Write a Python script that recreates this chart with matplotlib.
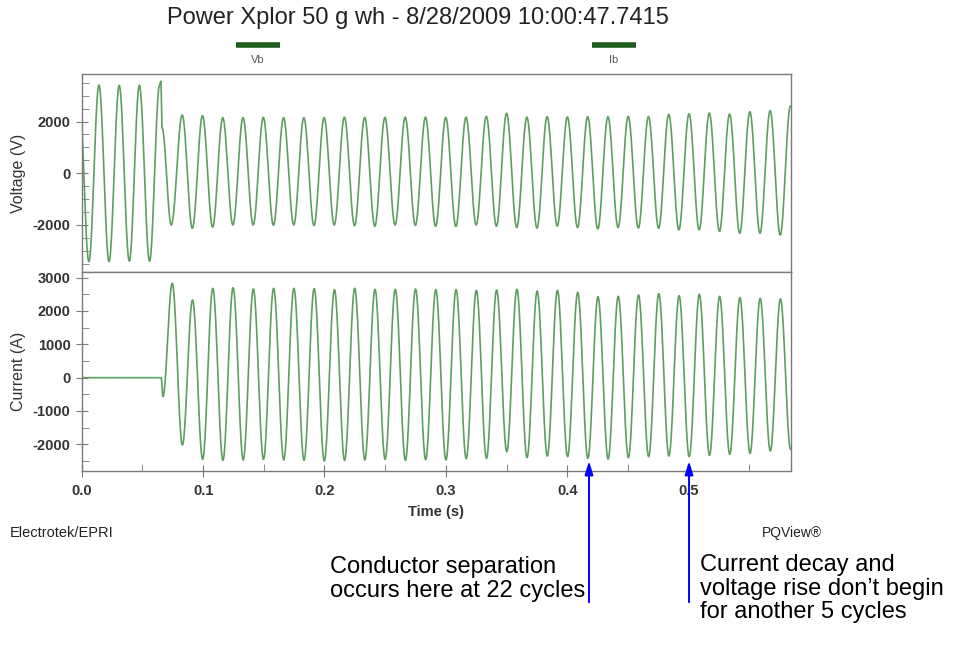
import numpy as np
import matplotlib
matplotlib.use("Agg")
import matplotlib.pyplot as plt
from matplotlib.ticker import MultipleLocator

plt.rcParams['font.family'] = ['Liberation Sans', 'DejaVu Sans']

# ---------------- data ----------------
title = "Power Xplor 50 g wh - 8/28/2009 10:00:47.7415"
series_names = ["Vb", "Ib"]
period = 0.0167  # s (60 Hz)

# Voltage before / at the fault: (time s, extreme value V)
v_pre_t = [-0.0025, 0.0059, 0.0142, 0.0225, 0.0309, 0.0392, 0.0475, 0.0559, 0.0642, 0.0652, 0.0662, 0.0738]
v_pre_v = [3400, -3420, 3415, -3420, 3400, -3400, 3400, -3400, 3420, 3560, 1750, -2000]
# Voltage after the fault: first peak time, then peaks / troughs per cycle
v_post_start = 0.0828
v_post_peaks = [2250, 2230, 2150, 2150, 2160, 2150, 2150, 2150, 2170, 2160,
                2160, 2170, 2170, 2160, 2170, 2200, 2320, 2170, 2190, 2180,
                2190, 2190, 2200, 2190, 2280, 2300, 2330, 2290, 2380, 2420, 2600]
v_post_troughs = [-2130, -2080, -2000, -2000, -2010, -2000, -2020, -2000, -2030, -2050,
                  -2000, -2020, -2050, -2060, -2000, -2050, -2100, -2120, -2040, -2100,
                  -2150, -2100, -2120, -2130, -2190, -2190, -2250, -2320, -2320, -2390]

# Current: flat before the fault, then first dip and offset peak
i_pre_t = [-0.01, 0.0655, 0.0669]
i_pre_v = [0, 0, -570]
i_post_start = 0.0746
i_post_peaks = [2830, 2330, 2680, 2700, 2660, 2680, 2680, 2670, 2640, 2680,
                2650, 2650, 2660, 2640, 2640, 2620, 2630, 2650, 2600, 2620,
                2560, 2430, 2440, 2480, 2520, 2460, 2500, 2440, 2400, 2380, 2360]
i_post_troughs = [-2020, -2450, -2480, -2470, -2450, -2470, -2480, -2500, -2480, -2470,
                  -2450, -2480, -2460, -2470, -2430, -2420, -2220, -2400, -2350, -2370,
                  -2420, -2440, -2400, -2370, -2350, -2370, -2330, -2300, -2270, -2200, -2150]

voltage_ticks = [-2000, 0, 2000]
current_ticks = [-2000, -1000, 0, 1000, 2000, 3000]
time_ticks = [0.0, 0.1, 0.2, 0.3, 0.4, 0.5]

arrow_times = [0.4179, 0.5003]
arrow_values = [-2420, -2420]
notes = ["Conductor separation\noccurs here at 22 cycles",
         "Current decay and\nvoltage rise don\u2019t begin\nfor another 5 cycles"]


def extremes(pre_t, pre_v, start, peaks, troughs):
    ts = list(pre_t)
    vs = list(pre_v)
    for k in range(len(peaks)):
        ts.append(start + k * period)
        vs.append(peaks[k])
        if k < len(troughs):
            ts.append(start + (k + 0.5) * period)
            vs.append(troughs[k])
    return np.array(ts), np.array(vs, dtype=float)


def wave(ts, vs, n=40):
    out_t, out_v = [], []
    for a in range(len(ts) - 1):
        s = np.linspace(0, 1, n, endpoint=False)
        out_t.append(ts[a] + s * (ts[a + 1] - ts[a]))
        out_v.append((vs[a] + vs[a + 1]) / 2 + (vs[a] - vs[a + 1]) / 2 * np.cos(np.pi * s))
    return np.concatenate(out_t), np.concatenate(out_v)


vt, vv = wave(*extremes(v_pre_t, v_pre_v, v_post_start, v_post_peaks, v_post_troughs))
it, iv = wave(*extremes(i_pre_t, i_pre_v, i_post_start, i_post_peaks, i_post_troughs))

# ---------------- figure ----------------
W, H = 964, 665
fig = plt.figure(figsize=(W / 100, H / 100), dpi=100)
fig.patch.set_facecolor('white')

def fx(px):
    return px / W

def fy(py):
    return 1 - py / H

left, right = 81.7, 791
ax1 = fig.add_axes([fx(left), fy(272), fx(right - left), (272 - 74) / H])
ax2 = fig.add_axes([fx(left), fy(471), fx(right - left), (471 - 272) / H], sharex=ax1)

wave_color = '#5e9e5e'
spine_color = '#7a7a7a'
label_color = '#333333'

ax1.plot(vt, vv, color=wave_color, lw=1.2)
ax2.plot(it, iv, color=wave_color, lw=1.2)

ax1.set_xlim(0, 0.5843)
ax1.set_ylim(-3820, 3840)
ax2.set_ylim(-2800, 3170)

for ax in (ax1, ax2):
    for s in ax.spines.values():
        s.set_color(spine_color)
        s.set_linewidth(1.0)
    ax.tick_params(axis='both', which='major', direction='inout', length=9,
                   color=spine_color, labelcolor=label_color, labelsize=10.5)
    ax.tick_params(axis='both', which='minor', direction='in', length=5,
                   color=spine_color)
    ax.yaxis.set_minor_locator(MultipleLocator(500))

ax1.set_yticks(voltage_ticks)
ax1.set_yticklabels([str(v) for v in voltage_ticks], fontweight='bold')
ax2.set_yticks(current_ticks)
ax2.set_yticklabels([str(v) for v in current_ticks], fontweight='bold')

ax1.tick_params(axis='x', which='both', bottom=False, labelbottom=False)
ax2.set_xticks(time_ticks)
ax2.set_xticklabels([f"{t:.1f}" for t in time_ticks], fontweight='bold')
ax2.xaxis.set_minor_locator(MultipleLocator(0.05))
ax2.tick_params(axis='x', which='major', pad=5)

ax1.set_ylabel("Voltage (V)", fontsize=11.5, color=label_color)
ax2.set_ylabel("Current (A)", fontsize=11.5, color=label_color)
ax2.set_xlabel("Time (s)", fontsize=10.5, color=label_color, fontweight='bold')
ax1.yaxis.set_label_coords(-0.078, 0.5)
ax2.yaxis.set_label_coords(-0.078, 0.5)
ax2.xaxis.set_label_coords(0.5, -0.17)

# title and legend bars
fig.text(fx(418), fy(18), title, ha='center', va='center', fontsize=17, color='#222222')
legend_x = [258, 614]
for name, x in zip(series_names, legend_x):
    fig.add_artist(plt.Line2D([fx(x - 22), fx(x + 22)], [fy(45), fy(45)],
                              color='#1f5c1f', lw=4, solid_capstyle='butt'))
    fig.text(fx(x), fy(60), name, ha='center', va='center', fontsize=8, color='#555555')

fig.text(fx(10), fy(533), "Electrotek/EPRI", ha='left', va='center', fontsize=10.5, color='#222222')
fig.text(fx(822), fy(533), "PQView\u00ae", ha='right', va='center', fontsize=10, color='#222222')

# annotation arrows
for t, v in zip(arrow_times, arrow_values):
    ax2.annotate('', xy=(t, v), xycoords='data',
                 xytext=(t, fy(605)), textcoords=('data', 'figure fraction'),
                 arrowprops=dict(arrowstyle='-|>,head_length=0.8,head_width=0.25',
                                 color='#0000ff', lw=1.4),
                 annotation_clip=False)

fig.text(fx(330), fy(556), notes[0], ha='left', va='top', fontsize=17,
         color='black', linespacing=1.1)
fig.text(fx(700), fy(554), notes[1], ha='left', va='top', fontsize=17,
         color='black', linespacing=1.1)

fig.savefig("out.png", dpi=100, facecolor='white')
